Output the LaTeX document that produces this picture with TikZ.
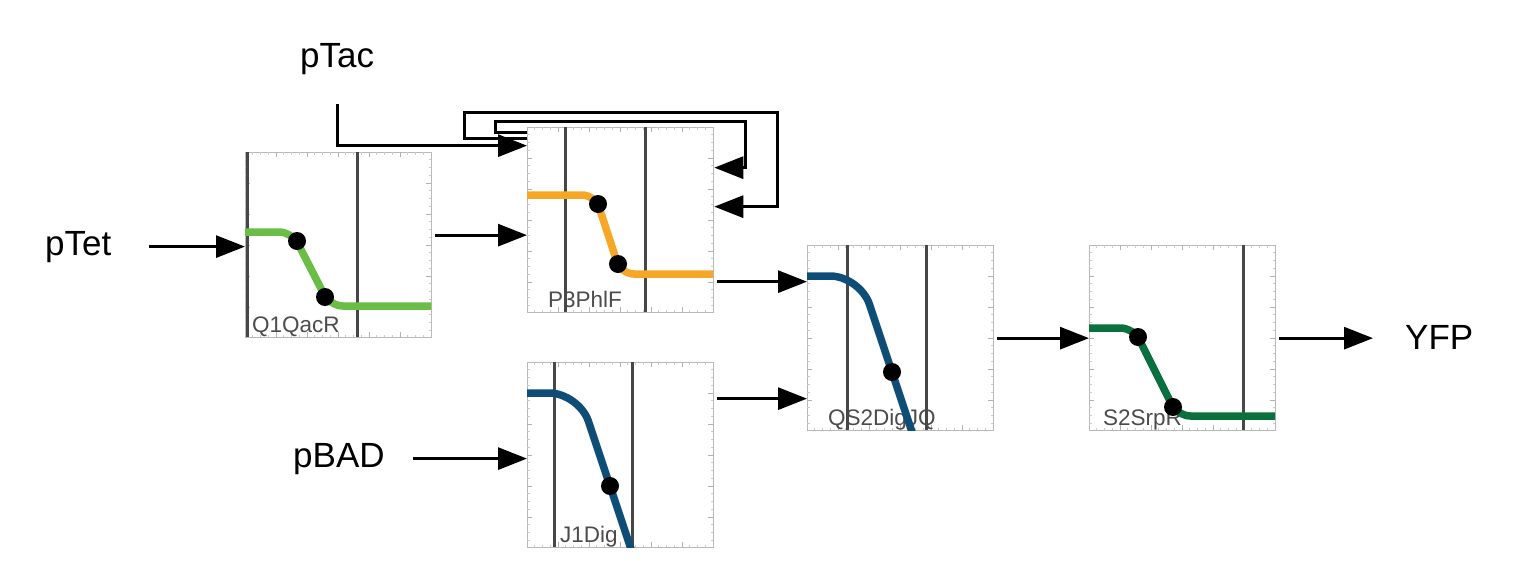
\documentclass[tikz,border=0pt]{standalone}
\usepackage{fontspec}
\setmainfont{Liberation Sans}
\usetikzlibrary{arrows.meta}

\definecolor{qacgreen}{RGB}{106,189,69}
\definecolor{phlorange}{RGB}{247,167,38}
\definecolor{digblue}{RGB}{14,78,118}
\definecolor{srpgreen}{RGB}{10,112,62}

\tikzset{
  gate/.style={draw=gray!55, line width=1.3pt, minimum width=186pt, minimum height=185pt, inner sep=0pt, anchor=north west},
  promoter/.style={font=\fontsize{35}{42}\selectfont, inner sep=0pt, anchor=base west},
  gatename/.style={font=\fontsize{22.5}{27}\selectfont, text=black!70, inner sep=0pt, anchor=base west},
  wire/.style={-{Triangle[length=29pt,width=22pt]}, line width=3pt},
  level/.style={black!72, line width=3pt},
  response/.style={line width=7.5pt, rounded corners=13pt},
  dot/.style={circle, fill=black, inner sep=0pt, minimum size=18pt},
  tick/.style={gray!60, line width=1pt},
  minortick/.style={gray!40, line width=0.8pt}
}

% tick marks round a gate plot, in the plot's own coordinates
\newcommand{\gateticks}{%
  \foreach \t in {7.75,15.5,...,180} {
    \draw[minortick] (\t,0) -- (\t,2.5);
    \draw[minortick] (\t,185) -- (\t,182.5);
    \draw[minortick] (0,\t) -- (2.5,\t);
    \draw[minortick] (186,\t) -- (183.5,\t);
  }
  \foreach \t in {31,62,...,155} {
    \draw[tick] (\t,0) -- (\t,5);
    \draw[tick] (\t,185) -- (\t,180);
    \draw[tick] (0,\t) -- (5,\t);
    \draw[tick] (186,\t) -- (181,\t);
  }}

\begin{document}
\begin{tikzpicture}[x=1pt,y=-1pt]
  \useasboundingbox (0,0) rectangle (1520,560);
  % inputs and output
  \node[promoter] (ptac) at (300,67) {pTac};
  \node[promoter] (ptet) at (45,255) {pTet};
  \node[promoter] (pbad) at (293,467) {pBAD};
  \node[promoter] (yfp) at (1405,349) {YFP};
  % gates
  \node[gate] (q1qacr) at (245,152) {};
  \node[gate] (p3phlf) at (527,127) {};
  \node[gate] (j1digi) at (527,362) {};
  \node[gate] (qs2digjq) at (807,245) {};
  \node[gate] (s2srpr) at (1089,245) {};

  \begin{scope}[shift={(q1qacr.north west)}]
    \clip (0,0) rectangle (186,185);
    \gateticks
    \node[gatename] (q1name) at (7,180) {Q1QacR};
    \draw[level] (2,0) -- (2,185) (112,0) -- (112,185);
    \draw[response, qacgreen] (0,80) -- (47,80) -- (85,154) -- (190,154);
    \node[dot] (q1hi) at (52,89) {};
    \node[dot] (q1lo) at (80,145) {};
  \end{scope}

  \begin{scope}[shift={(p3phlf.north west)}]
    \clip (0,0) rectangle (186,185);
    \gateticks
    \node[gatename] (p3name) at (21,180) {P3PhlF};
    \draw[level] (38,0) -- (38,185) (118,0) -- (118,185);
    \draw[response, phlorange] (0,68) -- (68,68) -- (94,147) -- (190,147);
    \node[dot] (p3hi) at (71,77) {};
    \node[dot] (p3lo) at (91,137) {};
  \end{scope}

  \begin{scope}[shift={(j1digi.north west)}]
    \clip (0,0) rectangle (186,185);
    \gateticks
    \node[gatename] (j1name) at (33,180) {J1Dig};
    \draw[level] (27,0) -- (27,185) (105,0) -- (105,185);
    \draw[response, digblue, rounded corners=30pt] (0,31) -- (52,31) -- (112,211);
    \node[dot] (j1hi) at (83,124) {};
  \end{scope}

  \begin{scope}[shift={(qs2digjq.north west)}]
    \clip (0,0) rectangle (186,185);
    \gateticks
    \node[gatename] (qs2name) at (21,180) {QS2DigJQ};
    \draw[level] (40,0) -- (40,185) (119,0) -- (119,185);
    \draw[response, digblue, rounded corners=30pt] (0,31) -- (53,31) -- (113,211);
    \node[dot] (qs2hi) at (85,127) {};
  \end{scope}

  \begin{scope}[shift={(s2srpr.north west)}]
    \clip (0,0) rectangle (186,185);
    \gateticks
    \node[gatename] (s2name) at (14,180) {S2SrpR};
    \draw[level] (154,0) -- (154,185);
    \draw[response, srpgreen] (0,83) -- (44.5,83) -- (88.5,171) -- (190,171);
    \node[dot] (s2hi) at (49,92) {};
    \node[dot] (s2lo) at (84,162) {};
  \end{scope}

  % wiring
  \coordinate (tacin) at ([yshift=74.5pt]p3phlf.west);
  \draw[wire, shorten <=30pt] (ptac.south) |- (tacin);
  \draw[wire, shorten <=37pt] (ptet.east) -- (ptet.east -| q1qacr.west);
  \coordinate (q1out) at ([yshift=10pt]q1qacr.east);
  \draw[wire, shorten <=3pt] (q1out) -- (q1out -| p3phlf.west);
  % feedback round P3PhlF
  \coordinate (fbout) at ([yshift=81.5pt]p3phlf.west);
  \coordinate (fbin) at ([yshift=13.5pt]p3phlf.east);
  \draw[wire] (fbout) -- ++(-63,0) -- ++(0,-26) -- ++(313,0) |- (fbin);
  \coordinate (fbout2) at ([yshift=87.5pt]p3phlf.west);
  \coordinate (fbin2) at ([yshift=52.5pt]p3phlf.east);
  \draw[wire] (fbout2) -- ++(-32,0) -- ++(0,-11) -- ++(250,0) |- (fbin2);
  \coordinate (p3out) at ([yshift=-61.5pt]p3phlf.east);
  \draw[wire, shorten <=3pt] (p3out) -- (p3out -| qs2digjq.west);
  \draw[wire, shorten <=28pt] (pbad.east) -- (pbad.east -| j1digi.west);
  \coordinate (j1out) at ([yshift=56.5pt]j1digi.east);
  \draw[wire, shorten <=3pt] (j1out) -- (j1out -| qs2digjq.west);
  \draw[wire, shorten <=3pt] (qs2digjq.east) -- (qs2digjq.east -| s2srpr.west);
  \draw[wire, shorten <=3pt, shorten >=32pt] (s2srpr.east) -- (s2srpr.east -| yfp.west);
\end{tikzpicture}
\end{document}
